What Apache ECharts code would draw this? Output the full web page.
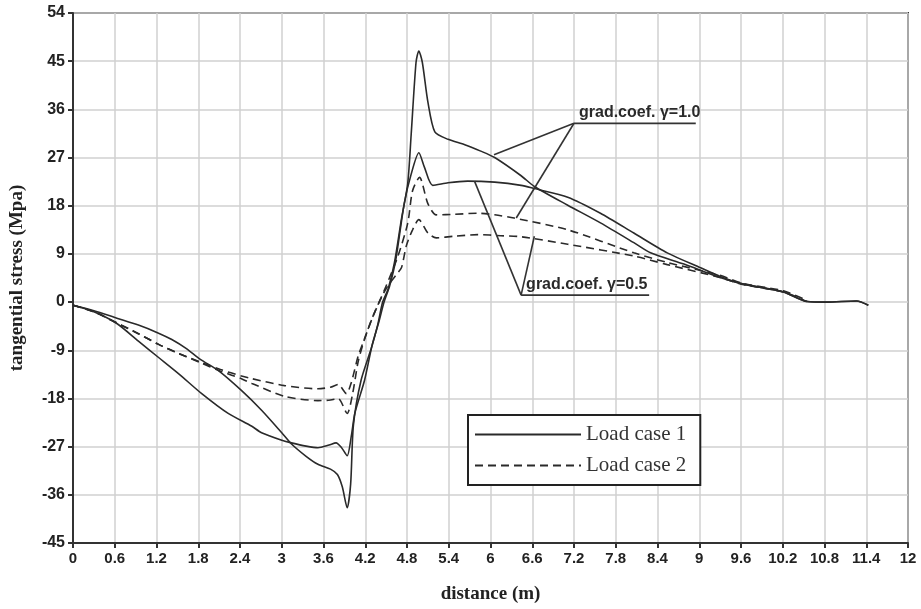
<!DOCTYPE html>
<html>
<head>
<meta charset="utf-8">
<script src="https://cdn.jsdelivr.net/npm/echarts@6/dist/echarts.min.js"></script>
<style>html,body{margin:0;padding:0;background:#fff;}#c{width:921px;height:609px;}</style>
</head>
<body>
<div id="c"></div>
<script>
// Load case 1, grad.coef. γ=1.0 (solid)
const case1_g10 = [[0,-0.6],[0.3,-1.6],[0.63,-3.0],[0.94,-4.3],[1.23,-5.8],[1.42,-7.0],[1.63,-8.7],[1.83,-10.7],[2.09,-12.8],[2.42,-16.5],[2.71,-20.2],[3.0,-24.4],[3.14,-26.5],[3.35,-28.8],[3.52,-30.3],[3.7,-31.2],[3.8,-32.2],[3.87,-34.5],[3.94,-38.4],[3.99,-34],[4.03,-23],[4.14,-14.6],[4.29,-8.5],[4.38,-4.2],[4.45,0],[4.53,2.5],[4.62,7.4],[4.72,15.5],[4.81,22.1],[4.86,31.3],[4.93,44.8],[4.97,46.9],[5.02,44.8],[5.10,37.4],[5.2,31.8],[5.39,30.4],[5.63,29.4],[5.86,28.2],[6.06,27.0],[6.44,23.6],[6.63,21.6],[7.11,18.1],[7.58,14.8],[8.06,11.1],[8.30,9.2],[8.78,7.1],[9.30,4.6],[9.62,3.4],[10.21,1.9],[10.55,0.1],[10.83,0],[11.26,0.2],[11.43,-0.6]];
// Load case 1, grad.coef. γ=0.5 (solid)
const case1_g05 = [[0,-0.6],[0.3,-1.8],[0.63,-4.0],[0.94,-7.3],[1.23,-10.35],[1.52,-13.4],[1.85,-17.1],[2.23,-20.8],[2.57,-23.2],[2.71,-24.4],[3.0,-25.8],[3.14,-26.3],[3.35,-26.9],[3.52,-27.2],[3.68,-26.7],[3.78,-26.3],[3.86,-27.2],[3.94,-28.7],[4.0,-25],[4.05,-20.8],[4.19,-14.6],[4.3,-8],[4.4,-3.5],[4.47,0],[4.55,3],[4.64,8],[4.76,18.4],[4.86,23.9],[4.97,27.9],[5.05,25.2],[5.17,21.8],[5.39,22.3],[5.67,22.6],[6.06,22.4],[6.44,21.8],[6.63,21.2],[7.11,19.6],[7.58,16.6],[8.06,12.9],[8.54,9.2],[9.02,6.4],[9.30,4.8],[9.62,3.4],[10.21,1.9],[10.55,0.1],[10.83,0],[11.26,0.2],[11.43,-0.6]];
// Load case 2, grad.coef. γ=1.0 (dashed, upper)
const case2_g10 = [[0,-0.6],[0.3,-1.8],[0.63,-3.9],[0.94,-5.9],[1.23,-7.9],[1.52,-9.6],[1.83,-11.2],[2.12,-12.6],[2.42,-13.8],[2.57,-14.3],[3.04,-15.6],[3.52,-16.2],[3.7,-15.9],[3.81,-15.4],[3.93,-17.1],[4.0,-15],[4.1,-10],[4.2,-6.5],[4.3,-3],[4.4,0],[4.5,3],[4.67,8.6],[4.81,14.7],[4.88,20.8],[4.98,23.3],[5.10,18.4],[5.22,16.3],[5.48,16.4],[5.82,16.6],[6.06,16.3],[6.34,15.7],[7.11,13.5],[8.06,9.2],[8.54,7.4],[9.30,5.0],[9.62,3.5],[10.21,2.1],[10.55,0.3]];
// Load case 2, grad.coef. γ=0.5 (dashed, lower)
const case2_g05 = [[0,-0.6],[0.3,-1.8],[0.63,-3.9],[0.94,-5.9],[1.23,-7.9],[1.52,-9.6],[1.83,-11.3],[2.12,-12.9],[2.42,-14.3],[2.57,-15.2],[3.04,-17.6],[3.52,-18.4],[3.7,-18.3],[3.81,-18.0],[3.94,-20.8],[4.02,-17],[4.1,-11],[4.2,-6.5],[4.3,-3],[4.4,0],[4.5,2.5],[4.65,5.2],[4.72,6.4],[4.79,10.5],[4.88,13.5],[4.97,15.4],[5.10,12.9],[5.22,12.0],[5.48,12.3],[5.82,12.6],[6.15,12.4],[6.44,12.2],[7.11,10.8],[8.06,8.6],[8.54,7.0],[9.30,4.6],[9.62,3.3],[10.21,1.9],[10.55,0.1]];

const legendNames = ['Load case 1', 'Load case 2'];
const xTitle = 'distance (m)';
const yTitle = 'tangential stress (Mpa)';
const label10 = 'grad.coef. γ=1.0';
const label05 = 'grad.coef. γ=0.5';
// annotation anchors (data coords): apex, underline end, leader targets
const ann10 = {apex:[7.20,33.4], end:[8.95,33.4], targets:[[6.05,27.5],[6.37,15.7]]};
const ann05 = {apex:[6.44,1.3], end:[8.28,1.3], targets:[[5.77,22.6],[6.63,12.3]]};

const chart = echarts.init(document.getElementById('c'), null, {renderer:'canvas'});
const lineCol = '#2a2a2a';
const fmt = v => String(Math.round(v*10)/10);

const option = {
  animation: false,
  backgroundColor: '#fff',
  grid: {left:71, right:13, top:13, bottom:57, show:true, borderColor:'#333', borderWidth:2, backgroundColor:'transparent'},
  xAxis: {
    type:'value', min:0, max:12, interval:0.6,
    name: xTitle, nameLocation:'middle', nameGap:42,
    nameTextStyle:{fontFamily:'Liberation Serif', fontWeight:'bold', fontSize:19, color:'#222'},
    axisLine:{show:true, onZero:false, lineStyle:{color:'#333', width:2}},
    axisTick:{show:true, length:5, lineStyle:{color:'#333', width:2}},
    axisLabel:{formatter:fmt, fontFamily:'Liberation Sans', fontWeight:'bold', fontSize:15, color:'#222', margin:8},
    splitLine:{show:true, lineStyle:{color:'#d0d0d0', width:1.5}}
  },
  yAxis: {
    type:'value', min:-45, max:54, interval:9,
    name: yTitle, nameLocation:'middle', nameGap:46,
    nameTextStyle:{fontFamily:'Liberation Serif', fontWeight:'bold', fontSize:19, color:'#222'},
    axisLine:{show:true, onZero:false, lineStyle:{color:'#333', width:2}},
    axisTick:{show:true, length:5, lineStyle:{color:'#333', width:2}},
    axisLabel:{fontFamily:'Liberation Sans', fontWeight:'bold', fontSize:16, color:'#222', margin:8},
    splitLine:{show:true, lineStyle:{color:'#d0d0d0', width:1.5}}
  },
  legend: {
    data: legendNames, orient:'vertical', left:468, top:415,
    borderColor:'#222', borderWidth:2, borderRadius:0,
    padding:[9,14,9,6], itemGap:10, itemWidth:106, itemHeight:14,
    backgroundColor:'#fff',
    itemStyle:{opacity:0, borderWidth:0},
    textStyle:{fontFamily:'Liberation Serif', fontSize:21, color:'#333'}
  },
  series: [
    {name:legendNames[0], type:'line', data:case1_g10, symbol:'none', smooth:0.25, lineStyle:{color:lineCol, width:1.6}, itemStyle:{color:lineCol}},
    {name:legendNames[0], type:'line', data:case1_g05, symbol:'none', smooth:0.25, lineStyle:{color:lineCol, width:1.6}, itemStyle:{color:lineCol}},
    {name:legendNames[1], type:'line', data:case2_g10, symbol:'none', smooth:0.25, lineStyle:{color:lineCol, width:1.6, type:[8,5]}, itemStyle:{color:lineCol}},
    {name:legendNames[1], type:'line', data:case2_g05, symbol:'none', smooth:0.25, lineStyle:{color:lineCol, width:1.6, type:[8,5]}, itemStyle:{color:lineCol}}
  ]
};
chart.setOption(option);

function annGraphics(ann, text) {
  const P = p => chart.convertToPixel({gridIndex:0}, p);
  const a = P(ann.apex), e = P(ann.end);
  const els = [];
  els.push({type:'line', shape:{x1:a[0], y1:a[1], x2:e[0], y2:e[1]}, style:{stroke:'#333', lineWidth:1.8}, z:100});
  ann.targets.forEach(t => {
    const q = P(t);
    els.push({type:'line', shape:{x1:a[0], y1:a[1], x2:q[0], y2:q[1]}, style:{stroke:'#333', lineWidth:1.6}, z:100});
  });
  els.push({type:'text', x:a[0]+5, y:a[1]-3, style:{text:text, font:'bold 16px "Liberation Sans"', fill:'#2a2a2a', textVerticalAlign:'bottom', textAlign:'left'}, z:100});
  return els;
}
chart.setOption({graphic: {elements: [].concat(annGraphics(ann10, label10), annGraphics(ann05, label05))}});
</script>
</body>
</html>
